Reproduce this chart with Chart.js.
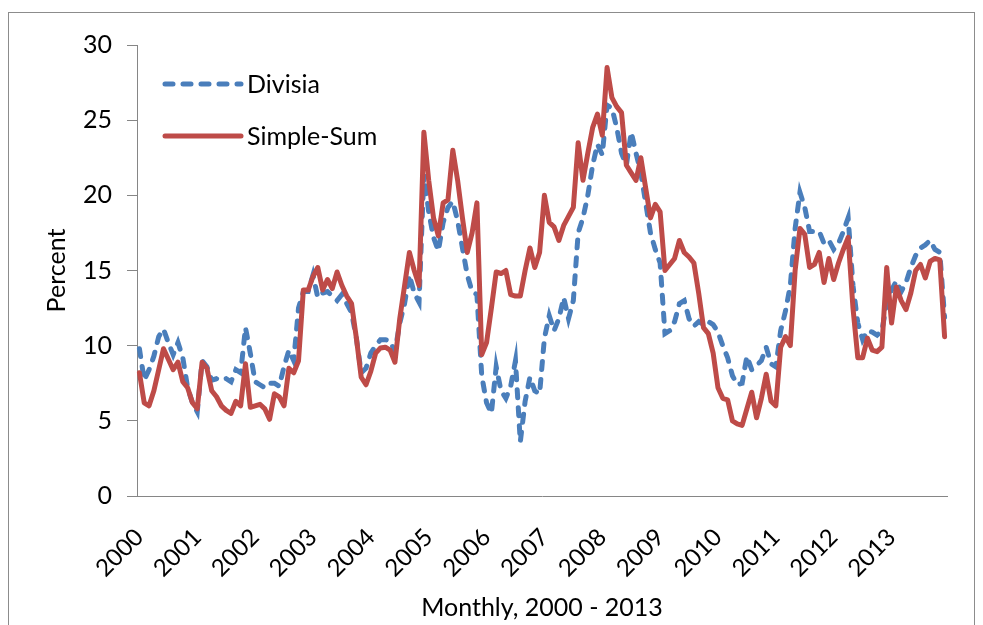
<!DOCTYPE html>
<html>
<head>
<meta charset="utf-8">
<title>Divisia vs Simple-Sum</title>
<script src="https://cdn.jsdelivr.net/npm/chart.js@4.4.0/dist/chart.umd.min.js"></script>
<style>
  html, body { margin: 0; padding: 0; background: #fff; }
  canvas { display: block; }
</style>
</head>
<body>
<canvas id="growthChart" width="983" height="625"></canvas>
<script>
// monthly growth rates, Jan 2000 - Dec 2013 (percent)
const years = [2000, 2001, 2002, 2003, 2004, 2005, 2006, 2007, 2008, 2009, 2010, 2011, 2012, 2013];
const yTicks = [0, 5, 10, 15, 20, 25, 30];

const divisia = [
  9.8, 7.7, 8.4, 9.3, 10.6, 11.1, 10.2, 9.4, 10.2, 9.2, 7.2, 6.2,
  5.6, 9.0, 8.6, 7.7, 7.8, 7.7, 7.8, 7.6, 8.4, 8.2, 11.2, 9.5,
  7.6, 7.4, 7.2, 7.5, 7.5, 7.3, 8.6, 9.7, 9.0, 12.5, 13.6, 13.6,
  14.7, 13.2, 13.5, 13.6, 13.3, 13.0, 13.4, 12.8, 12.2, 10.5, 8.2, 8.5,
  9.5, 10.0, 10.4, 10.4, 10.3, 9.6, 11.5, 12.8, 14.7, 13.5, 12.9, 21.4,
  18.9, 17.2, 16.3, 18.2, 19.2, 19.6, 18.3, 16.5, 14.7, 13.6, 13.4, 8.0,
  6.2, 5.5, 8.6, 7.0, 6.5, 7.3, 9.0, 3.6, 6.3, 7.9, 7.0, 6.8,
  10.5, 12.0, 11.0, 11.8, 13.2, 11.8, 13.0, 17.5, 18.5, 20.0, 22.0, 23.4,
  22.7, 26.0, 25.8, 24.5, 22.8, 22.0, 24.2, 22.8, 21.5, 19.5, 17.5, 16.4,
  15.5, 10.8, 11.0, 11.6, 12.8, 13.0, 11.8, 11.3, 11.6, 11.4, 11.6, 11.4,
  10.9, 10.0, 9.2, 8.0, 7.4, 7.5, 9.3, 8.4, 8.7, 9.0, 9.9, 8.8,
  8.6, 11.0, 12.3, 14.0, 17.8, 20.2, 19.2, 17.6, 17.6, 17.6, 16.8, 17.0,
  16.4, 16.8, 17.6, 18.5, 14.0, 11.5, 10.4, 11.0, 10.9, 10.7, 11.0, 12.8,
  13.7, 14.3, 13.6, 14.2, 15.2, 16.0, 16.5, 16.7, 17.0, 16.4, 16.2, 11.9
];

const simpleSum = [
  8.2, 6.2, 6.0, 7.0, 8.4, 9.8, 9.1, 8.4, 8.9, 7.6, 7.2, 6.2,
  5.8, 8.9, 8.5, 7.0, 6.6, 6.0, 5.7, 5.5, 6.3, 6.0, 8.8, 5.9,
  6.0, 6.1, 5.8, 5.1, 6.8, 6.6, 6.0, 8.5, 8.2, 9.0, 13.7, 13.7,
  14.6, 15.2, 13.7, 14.4, 13.8, 14.9, 14.0, 13.3, 12.8, 10.5, 7.9, 7.4,
  8.3, 9.5, 9.85, 9.9, 9.7, 8.9, 11.8, 14.0, 16.2, 15.0, 14.0, 24.2,
  21.0, 18.5, 17.3, 19.5, 19.7, 23.0, 21.0, 18.5, 16.2, 17.5, 19.5, 9.4,
  10.2, 12.5, 14.9, 14.8, 15.0, 13.4, 13.3, 13.3, 15.0, 16.5, 15.2, 16.2,
  20.0, 18.2, 17.9, 17.0, 18.0, 18.6, 19.2, 23.5, 21.0, 22.8, 24.5, 25.4,
  24.0, 28.5, 26.5, 25.9, 25.5, 22.0, 21.5, 21.0, 22.5, 20.5, 18.5, 19.4,
  18.9, 15.0, 15.4, 15.8, 17.0, 16.2, 15.9, 15.5, 13.5, 11.2, 10.8, 9.5,
  7.2, 6.5, 6.4, 5.0, 4.8, 4.7, 5.8, 6.9, 5.2, 6.5, 8.1, 6.3,
  6.0, 9.9, 10.6, 10.0, 15.0, 17.8, 17.4, 15.2, 15.4, 16.2, 14.2, 15.8,
  14.4, 15.5, 16.4, 17.2, 12.5, 9.2, 9.2, 10.5, 9.7, 9.6, 9.9, 15.2,
  11.5, 13.9, 13.0, 12.4, 13.5, 15.0, 15.4, 14.5, 15.6, 15.8, 15.7, 10.6
];

const months = [];
years.forEach(y => {
  for (let m = 1; m <= 12; m++) months.push(y + '-' + (m < 10 ? '0' + m : m));
});

const FONT = 'Lato, "Open Sans", sans-serif';
const AXIS_GREY = '#868686';

// outer frame of the chart area + the legend that sits inside the plot
const framePlugin = {
  id: 'frame',
  beforeDraw(chart) {
    const ctx = chart.ctx;
    ctx.save();
    ctx.strokeStyle = '#8c8c8c';
    ctx.lineWidth = 1;
    ctx.strokeRect(8.5, 12.5, 966, 700);
    ctx.restore();
  },
  afterDraw(chart) {
    const ctx = chart.ctx;
    const area = chart.chartArea;
    const x0 = area.left + 28;
    const rows = [area.top + 39, area.top + 91];
    ctx.save();
    chart.data.datasets.forEach((ds, i) => {
      const y = rows[i];
      ctx.beginPath();
      ctx.strokeStyle = ds.borderColor;
      ctx.lineWidth = ds.borderWidth;
      ctx.lineCap = ds.borderCapStyle || 'butt';
      ctx.setLineDash(ds.borderDash || []);
      ctx.moveTo(x0, y);
      ctx.lineTo(x0 + 76, y);
      ctx.stroke();
      ctx.setLineDash([]);
      ctx.fillStyle = '#000';
      ctx.font = '25px ' + FONT;
      ctx.textBaseline = 'middle';
      ctx.textAlign = 'left';
      ctx.fillText(ds.label, x0 + 82, y + 1);
    });
    ctx.restore();
  }
};

const ctx = document.getElementById('growthChart').getContext('2d');
new Chart(ctx, {
  type: 'line',
  data: {
    labels: months,
    datasets: [
      {
        label: 'Divisia',
        data: divisia,
        borderColor: '#4a7ebb',
        borderWidth: 5,
        borderDash: [8, 10],
        borderCapStyle: 'round',
        pointRadius: 0,
        tension: 0,
        order: 2
      },
      {
        label: 'Simple-Sum',
        data: simpleSum,
        borderColor: '#be4b48',
        borderWidth: 5,
        borderCapStyle: 'round',
        borderJoinStyle: 'round',
        pointRadius: 0,
        tension: 0,
        order: 1
      }
    ]
  },
  options: {
    responsive: false,
    animation: false,
    layout: { padding: { top: 45, right: 36, left: 0, bottom: 0 } },
    plugins: {
      legend: { display: false },
      tooltip: { enabled: false }
    },
    scales: {
      x: {
        type: 'category',
        offset: true,
        grid: { display: false, drawTicks: false },
        border: { display: true, color: AXIS_GREY, width: 1 },
        ticks: {
          autoSkip: false,
          maxRotation: 45,
          minRotation: 45,
          padding: 27,
          color: '#000',
          font: { family: FONT, size: 24 },
          callback: function (value, index) {
            return index % 12 === 0 ? years[index / 12] : null;
          }
        },
        title: {
          display: true,
          text: 'Monthly, 2000 - 2013',
          color: '#000',
          font: { family: FONT, size: 25 },
          padding: { top: 0, bottom: 2 }
        },
        afterFit: scale => { scale.height = 129; }
      },
      y: {
        min: 0,
        max: 30,
        afterBuildTicks: scale => { scale.ticks = yTicks.map(v => ({ value: v })); },
        grid: {
          display: true,
          drawOnChartArea: false,
          drawTicks: true,
          tickLength: 10,
          color: AXIS_GREY
        },
        border: { display: true, color: AXIS_GREY, width: 1 },
        ticks: {
          padding: 15,
          color: '#000',
          font: { family: FONT, size: 25 }
        },
        title: {
          display: true,
          text: 'Percent',
          color: '#000',
          font: { family: FONT, size: 25 },
          padding: { top: 42, bottom: 0 }
        },
        afterFit: scale => { scale.width = 137; }
      }
    }
  },
  plugins: [framePlugin]
});
</script>
</body>
</html>
